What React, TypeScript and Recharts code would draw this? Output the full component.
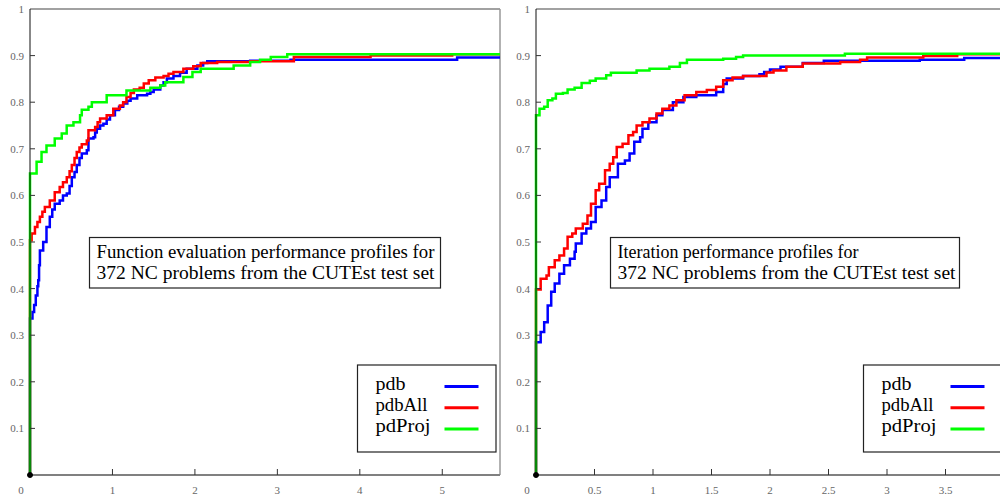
import { LineChart, Line, XAxis, YAxis, ReferenceLine, ReferenceDot } from "recharts"

const FONT = '"Liberation Serif", "Times New Roman", serif'

const COLORS = {
  pdb: "#0000ff",
  pdbAll: "#ff0000",
  pdProj: "#00ff00",
}

const seriesNames = ["pdb", "pdbAll", "pdProj"] as const

const yTicks = [0.1, 0.2, 0.3, 0.4, 0.5, 0.6, 0.7, 0.8, 0.9, 1]
const fevalXTicks = [0, 1, 2, 3, 4, 5]
const iterXTicks = [0, 0.5, 1, 1.5, 2, 2.5, 3, 3.5]

// function evaluation profiles: [tau, fraction]
const fevalPdb = [
  [0, 0], [0, 0.336], [0.03, 0.35], [0.05, 0.365], [0.07, 0.385], [0.09, 0.405], [0.1, 0.418],
  [0.11, 0.45], [0.12, 0.482], [0.16, 0.5], [0.2, 0.532], [0.24, 0.554], [0.27, 0.57], [0.3, 0.582],
  [0.36, 0.589], [0.4, 0.6], [0.446, 0.604], [0.48, 0.62], [0.507, 0.639], [0.54, 0.65],
  [0.567, 0.665], [0.6, 0.68], [0.628, 0.69], [0.689, 0.697], [0.709, 0.722], [0.77, 0.725],
  [0.79, 0.735], [0.81, 0.743], [0.85, 0.75], [0.89, 0.754], [0.93, 0.763], [0.97, 0.772],
  [1.03, 0.783], [1.08, 0.79], [1.13, 0.797], [1.18, 0.803], [1.22, 0.808], [1.3, 0.815],
  [1.42, 0.818], [1.46, 0.822], [1.5, 0.827], [1.58, 0.836], [1.62, 0.843], [1.66, 0.851],
  [1.74, 0.856], [1.82, 0.863], [1.9, 0.872], [2.03, 0.879], [2.1, 0.884], [2.15, 0.888],
  [2.67, 0.889], [3.16, 0.891], [5.18, 0.896], [5.7, 0.896],
]
const fevalPdbAll = [
  [0, 0], [0, 0.504], [0.02, 0.518], [0.06, 0.532], [0.09, 0.543], [0.12, 0.554], [0.15, 0.565],
  [0.18, 0.575], [0.24, 0.589], [0.3, 0.607], [0.36, 0.618], [0.4, 0.628], [0.446, 0.639],
  [0.48, 0.652], [0.507, 0.665], [0.54, 0.68], [0.567, 0.693], [0.6, 0.703], [0.628, 0.71],
  [0.689, 0.718], [0.709, 0.74], [0.79, 0.747], [0.82, 0.757], [0.85, 0.765], [0.93, 0.772],
  [1.01, 0.786], [1.09, 0.793], [1.13, 0.8], [1.17, 0.811], [1.22, 0.82], [1.26, 0.827],
  [1.33, 0.831], [1.38, 0.84], [1.44, 0.847], [1.52, 0.853], [1.62, 0.856], [1.68, 0.861],
  [1.74, 0.865], [1.86, 0.872], [1.98, 0.877], [2.07, 0.884], [2.27, 0.886], [2.67, 0.888],
  [3.2, 0.897], [4.13, 0.9], [5.12, 0.903], [5.7, 0.903],
]
const fevalPdProj = [
  [0, 0], [0, 0.647], [0.08, 0.672], [0.14, 0.693], [0.2, 0.707], [0.3, 0.722], [0.385, 0.733],
  [0.445, 0.75], [0.527, 0.757], [0.607, 0.772], [0.628, 0.784], [0.709, 0.79], [0.75, 0.8],
  [0.93, 0.815], [1.17, 0.825], [1.46, 0.831], [1.58, 0.836], [1.64, 0.843], [1.86, 0.854],
  [1.97, 0.865], [2.07, 0.872], [2.47, 0.879], [2.67, 0.886], [2.79, 0.891], [2.92, 0.897],
  [3.12, 0.903], [5.7, 0.903],
]

// iteration profiles: [tau, fraction]
const iterPdb = [
  [0, 0], [0, 0.285], [0.04, 0.307], [0.07, 0.328], [0.1, 0.364], [0.13, 0.393], [0.16, 0.411],
  [0.2, 0.432], [0.24, 0.45], [0.29, 0.464], [0.33, 0.479], [0.34, 0.497], [0.39, 0.518],
  [0.43, 0.529], [0.47, 0.543], [0.51, 0.575], [0.56, 0.589], [0.6, 0.618], [0.63, 0.639],
  [0.7, 0.668], [0.76, 0.675], [0.8, 0.69], [0.84, 0.715], [0.89, 0.725], [0.91, 0.743],
  [0.96, 0.757], [1.03, 0.772], [1.08, 0.783], [1.17, 0.8], [1.26, 0.811], [1.37, 0.815],
  [1.54, 0.822], [1.6, 0.839], [1.63, 0.851], [1.77, 0.856], [1.91, 0.86], [1.95, 0.865],
  [2.0, 0.87], [2.09, 0.876], [2.28, 0.884], [2.46, 0.889], [3.28, 0.891], [3.66, 0.895],
  [4, 0.895],
]
const iterPdbAll = [
  [0, 0], [0, 0.398], [0.04, 0.421], [0.09, 0.428], [0.11, 0.446], [0.16, 0.461], [0.2, 0.471],
  [0.24, 0.486], [0.27, 0.511], [0.31, 0.518], [0.34, 0.529], [0.4, 0.539], [0.44, 0.557],
  [0.47, 0.582], [0.51, 0.611], [0.54, 0.625], [0.59, 0.654], [0.63, 0.668], [0.66, 0.682],
  [0.69, 0.704], [0.74, 0.711], [0.79, 0.729], [0.83, 0.736], [0.86, 0.75], [0.91, 0.757],
  [0.97, 0.765], [1.03, 0.776], [1.08, 0.786], [1.14, 0.793], [1.2, 0.804], [1.27, 0.815],
  [1.37, 0.822], [1.46, 0.826], [1.54, 0.833], [1.6, 0.847], [1.68, 0.853], [1.77, 0.856],
  [1.97, 0.864], [2.03, 0.868], [2.14, 0.876], [2.28, 0.883], [2.6, 0.886], [2.77, 0.891],
  [2.83, 0.896], [3.31, 0.899], [3.6, 0.903], [4, 0.903],
]
const iterPdProj = [
  [0, 0], [0, 0.772], [0.03, 0.786], [0.07, 0.79], [0.1, 0.804], [0.14, 0.808], [0.17, 0.818],
  [0.23, 0.82], [0.27, 0.827], [0.33, 0.831], [0.39, 0.841], [0.46, 0.846], [0.51, 0.851],
  [0.6, 0.858], [0.64, 0.863], [0.86, 0.868], [0.97, 0.872], [1.14, 0.876], [1.23, 0.884],
  [1.29, 0.891], [1.6, 0.893], [1.71, 0.897], [1.77, 0.9], [2.64, 0.904], [4, 0.904],
]

const toPoints = (arr: number[][]) => arr.map(([x, y]) => ({ x, y }))

function XTick({ x, y, payload }: any) {
  const v = payload.value
  return (
    <g>
      {v !== 0 && <line x1={x} x2={x} y1={y} y2={y - 6} stroke="#333" strokeWidth={1} />}
      <text x={v === 0 ? x - 9 : x} y={y + 19} textAnchor="middle" fontSize={11} fill="#666" style={{ fontFamily: FONT }}>
        {v}
      </text>
    </g>
  )
}

function YTick({ x, y, payload }: any) {
  const v = payload.value
  return (
    <g>
      {v < 1 && <line x1={x} x2={x + 5} y1={y} y2={y} stroke="#333" strokeWidth={1} />}
      <text x={x - 6} y={y + 4} textAnchor="end" fontSize={11} fill="#666" style={{ fontFamily: FONT }}>
        {v}
      </text>
    </g>
  )
}

interface PanelProps {
  width: number
  rightMargin: number
  xMax: number
  xTicks: number[]
  series: number[][][]
  showRightBorder: boolean
}

function Panel({ width, rightMargin, xMax, xTicks, series, showRightBorder }: PanelProps) {
  return (
    <LineChart width={width} height={499} margin={{ top: 9, right: rightMargin, bottom: 4, left: 0 }}>
      <XAxis
        type="number"
        dataKey="x"
        domain={[0, xMax]}
        ticks={xTicks}
        interval={0}
        height={20}
        tickSize={0}
        tickMargin={0}
        tick={XTick}
        axisLine={{ stroke: "#808080", strokeWidth: 2 }}
      />
      <YAxis
        type="number"
        dataKey="y"
        domain={[0, 1]}
        ticks={yTicks}
        interval={0}
        width={30}
        tickSize={0}
        tickMargin={0}
        tick={YTick}
        axisLine={{ stroke: "#111", strokeWidth: 1 }}
      />
      <ReferenceLine y={1} stroke="#444" strokeWidth={1.2} />
      {showRightBorder && <ReferenceLine x={xMax} stroke="#999" strokeWidth={1.5} />}
      {seriesNames.map((name, i) => (
        <Line
          key={name}
          data={toPoints(series[i])}
          dataKey="y"
          name={name}
          type="stepAfter"
          stroke={COLORS[name]}
          strokeWidth={2.5}
          dot={false}
          isAnimationActive={false}
        />
      ))}
      <ReferenceDot x={0} y={0} r={2.5} fill="#000" stroke="#000" />
    </LineChart>
  )
}

function InfoBox({ x, y, w, h, lines, lengths }: { x: number; y: number; w: number; h: number; lines: string[]; lengths: number[] }) {
  return (
    <g>
      <rect x={x} y={y} width={w} height={h} fill="#fff" stroke="#222" strokeWidth={1.2} />
      {lines.map((t, i) => (
        <text key={i} x={x + 7} y={y + 20 + i * 21} fontSize={19} style={{ fontFamily: FONT }} fill="#000"
          textLength={lengths[i]} lengthAdjust="spacingAndGlyphs">
          {t}
        </text>
      ))}
    </g>
  )
}

const legendLengths = [30, 52, 55]

function LegendBox({ x, y, w }: { x: number; y: number; w: number }) {
  return (
    <g>
      <rect x={x} y={y} width={w} height={87} fill="#fff" stroke="#222" strokeWidth={1.2} />
      {seriesNames.map((name, i) => (
        <g key={name}>
          <text x={x + 18} y={y + 25 + i * 21} fontSize={19} style={{ fontFamily: FONT }} fill="#000"
            textLength={legendLengths[i]} lengthAdjust="spacingAndGlyphs">
            {name}
          </text>
          <line x1={x + 87} x2={x + 121} y1={y + 21.5 + i * 21.3} y2={y + 21.5 + i * 21.3} stroke={COLORS[name]} strokeWidth={3} />
        </g>
      ))}
    </g>
  )
}

export default function App() {
  return (
    <div style={{ position: "absolute", left: 0, top: 0, width: 1000, height: 499, overflow: "hidden", background: "#fff" }}>
      <div style={{ position: "absolute", left: 0, top: 0 }}>
        <Panel width={505} rightMargin={5} xMax={5.7} xTicks={fevalXTicks}
          series={[fevalPdb, fevalPdbAll, fevalPdProj]} showRightBorder />
      </div>
      <div style={{ position: "absolute", left: 506, top: 0 }}>
        <Panel width={498} rightMargin={0} xMax={4} xTicks={iterXTicks}
          series={[iterPdb, iterPdbAll, iterPdProj]} showRightBorder={false} />
      </div>
      <svg width={1000} height={499} style={{ position: "absolute", left: 0, top: 0, pointerEvents: "none" }}>
        <InfoBox x={89.5} y={237.5} w={351} h={50.5}
          lines={["Function evaluation performance profiles for", "372 NC problems from the CUTEst test set"]}
          lengths={[338, 338]} />
        <InfoBox x={610.5} y={237.5} w={349} h={50.5}
          lines={["Iteration performance profiles for", "372 NC problems from the CUTEst test set"]}
          lengths={[241, 338]} />
        <LegendBox x={357.5} y={365} w={138.5} />
        <LegendBox x={863.5} y={365} w={150} />
      </svg>
    </div>
  )
}
